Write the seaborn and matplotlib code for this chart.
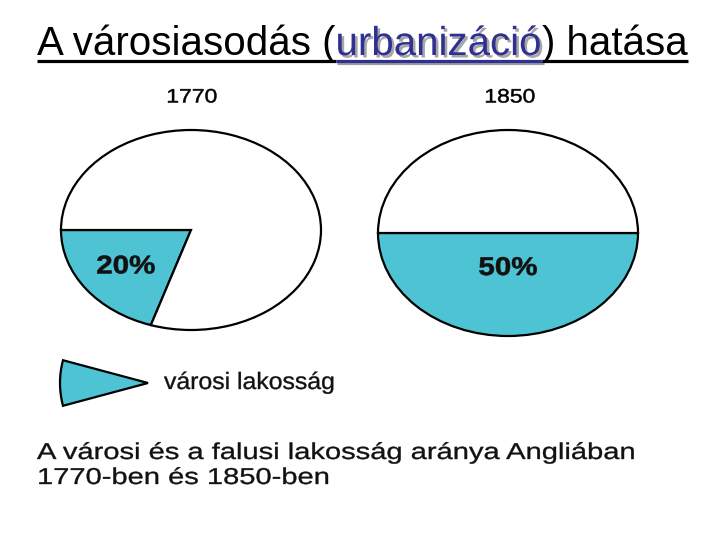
import matplotlib
matplotlib.use("Agg")
import matplotlib.pyplot as plt
import matplotlib.patheffects as pe
from matplotlib.patches import Wedge
from matplotlib.transforms import Affine2D
import seaborn as sns

# ---- data ----
title_parts = ["A városiasodás (", "urbanizáció", ") hatása"]
years = ["1770", "1850"]
urban_share = [20, 50]
rural_share = [80, 50]
legend_label = "városi lakosság"
caption_lines = ["A városi és a falusi lakosság aránya Angliában",
                 "1770-ben és 1850-ben"]

sns.set_theme(style="white")
plt.rcParams['font.family'] = ['Liberation Sans', 'DejaVu Sans']

TEAL = '#4EC3D3'
BLUE = '#2F3192'


class Stretch(pe.AbstractPathEffect):
    """Horizontally widen glyphs (the printed source uses a wide face),
    optionally thickening them slightly like the scanned print."""
    def __init__(self, sx, anchor='left', stroke=0.0):
        super().__init__()
        self.sx = sx
        self.anchor = anchor
        self.stroke = stroke

    def draw_path(self, renderer, gc, tpath, affine, rgbFace=None):
        cx = 0
        if self.anchor == 'center':
            ext = tpath.get_extents()
            cx = (ext.x0 + ext.x1) / 2
        t = Affine2D().translate(-cx, 0).scale(self.sx, 1).translate(cx, 0) + affine
        if self.stroke > 0:
            gc0 = renderer.new_gc()
            gc0.copy_properties(gc)
            gc0.set_linewidth(self.stroke)
            gc0.set_foreground(rgbFace)
            gc0.set_joinstyle('round')
            renderer.draw_path(gc0, tpath, t, rgbFace)
            gc0.restore()
        else:
            renderer.draw_path(gc, tpath, t, rgbFace)


W, H = 720, 540
fig = plt.figure(figsize=(7.2, 5.4), dpi=100)
fig.patch.set_facecolor('white')
bg = fig.add_axes([0, 0, 1, 1])
bg.set_xlim(0, W)
bg.set_ylim(H, 0)
bg.axis('off')


def box(cx, cy, rx, ry, pad):
    return [(cx - rx * pad) / W, 1 - (cy + ry * pad) / H,
            2 * rx * pad / W, 2 * ry * pad / H]


# ---- title ----
tsize = 29
tbase = 55
tA = bg.text(37, tbase, title_parts[0], fontsize=tsize, color='black', va='baseline', ha='left')
tB = bg.text(37, tbase, title_parts[1], fontsize=tsize, color=BLUE, va='baseline', ha='left',
             path_effects=[pe.SimplePatchShadow(offset=(1.8, -1.8), shadow_rgbFace='#9c9c9c', alpha=0.9),
                           pe.Normal()])
tC = bg.text(37, tbase, title_parts[2], fontsize=tsize, color='black', va='baseline', ha='left')
fig.canvas.draw()
r = fig.canvas.get_renderer()
inv = bg.transData.inverted()


def xr(t):
    bb = t.get_window_extent(r)
    (x0, _), (x1, _) = inv.transform([(bb.x0, 0), (bb.x1, 0)])
    return x0, x1


a0, a1 = xr(tA)
tB.set_x(a1)
fig.canvas.draw()
b0, b1 = xr(tB)
tC.set_x(b1)
fig.canvas.draw()
c0, c1 = xr(tC)
uy = 61
bg.plot([a0, a1], [uy, uy], color='black', lw=2.3, solid_capstyle='butt')
bg.plot([b0 + 1.8, b1 + 1.8], [uy + 1.8, uy + 1.8], color='#9c9c9c', lw=2.3, solid_capstyle='butt')
bg.plot([b0, b1], [uy, uy], color=BLUE, lw=2.3, solid_capstyle='butt')
bg.plot([c0, c1], [uy, uy], color='black', lw=2.3, solid_capstyle='butt')

# ---- pies ----
centers = [(191, 230, 130, 100), (508, 233, 130, 103)]
pct_dist = [0.62, 0.34]
year_pos = [(192, 98), (510, 98)]
pad = 1.03
for i in range(2):
    cx, cy, rx, ry = centers[i]
    ax = fig.add_axes(box(cx, cy, rx, ry, pad))
    wedges, texts, autos = ax.pie(
        [urban_share[i], rural_share[i]], colors=[TEAL, 'white'],
        startangle=180, counterclock=True, autopct='%.0f%%', pctdistance=pct_dist[i],
        wedgeprops=dict(edgecolor='black', linewidth=1.6),
        textprops=dict(fontsize=18.5, fontweight='bold', color='#111111'))
    autos[1].set_visible(False)
    autos[0].set_path_effects([Stretch(1.15, 'center', 0.4)])
    ax.set_aspect('auto')
    ax.set_xlim(-pad, pad)
    ax.set_ylim(-pad, pad)
    ax.axis('off')
    bg.text(year_pos[i][0], year_pos[i][1], years[i], fontsize=14, ha='center', va='center',
            color='black', path_effects=[Stretch(1.18, 'center', 0.35)])

# ---- legend ----
bg.add_patch(Wedge((148, 383), 88, 165, 195, facecolor=TEAL, edgecolor='black', lw=1.6))
bg.text(164, 383, legend_label, fontsize=17, ha='left', va='center', color='#111111',
        path_effects=[Stretch(1.05, 'left', 0.25)])

# ---- caption ----
bg.text(37, 459, caption_lines[0], fontsize=16.5, ha='left', va='baseline', color='#111111',
        path_effects=[Stretch(1.27, 'left', 0.25)])
bg.text(37, 484, caption_lines[1], fontsize=16.5, ha='left', va='baseline', color='#111111',
        path_effects=[Stretch(1.27, 'left', 0.25)])

fig.savefig('out.png', dpi=100, facecolor='white')
